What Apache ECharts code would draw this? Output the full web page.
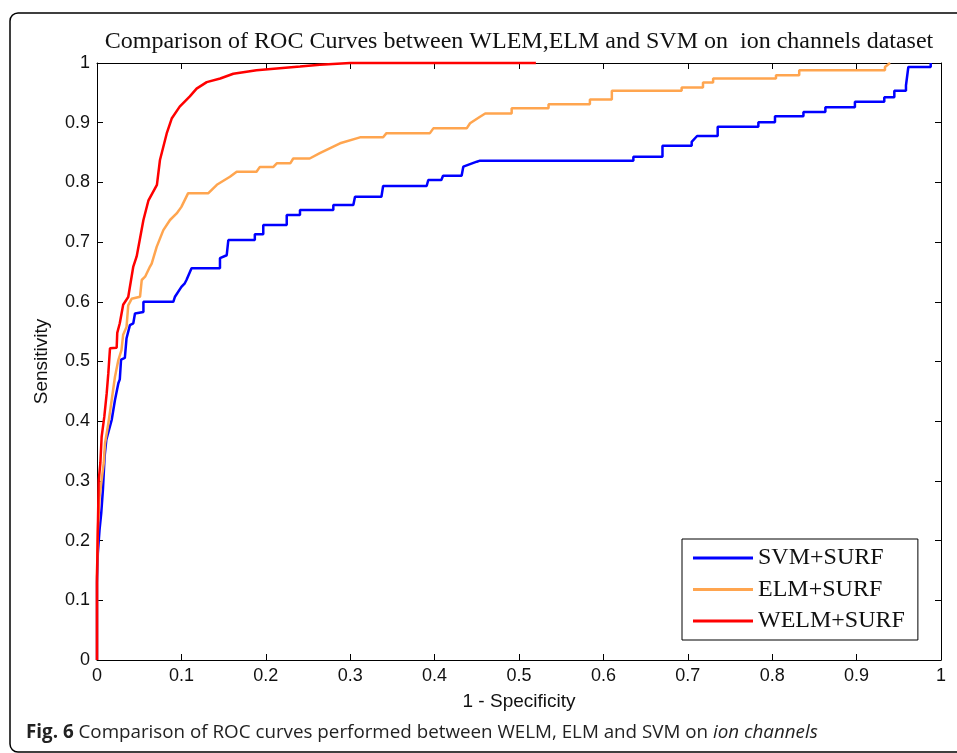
<!DOCTYPE html>
<html>
<head>
<meta charset="utf-8">
<script src="https://cdn.jsdelivr.net/npm/echarts@6/dist/echarts.min.js"></script>
<style>
html,body{margin:0;padding:0;background:#fff;}
#chart{width:957px;height:753px;}
</style>
</head>
<body>
<div id="chart"></div>
<script>
const titleText = 'Comparison of ROC Curves between WLEM,ELM and SVM on  ion channels dataset';
const xAxisName = '1 - Specificity';
const yAxisName = 'Sensitivity';
const seriesNames = ['SVM+SURF', 'ELM+SURF', 'WELM+SURF'];
const seriesColors = ['#0000FF', '#FFA54F', '#FF0000'];

const svmFpr = [0,0,0.001,0.003,0.005,0.007,0.009,0.011,0.0174,0.0213,0.0253,0.027,0.0285,0.033,0.035,0.039,0.043,0.045,0.055,0.055,0.0904,0.0924,0.1,0.104,0.106,0.112,0.1457,0.1457,0.1537,0.1556,0.187,0.187,0.197,0.197,0.2248,0.2248,0.2405,0.2405,0.28,0.28,0.3037,0.3057,0.337,0.339,0.3906,0.3925,0.408,0.410,0.432,0.434,0.45,0.4538,0.6355,0.6355,0.670,0.670,0.7046,0.7046,0.711,0.7354,0.7354,0.7836,0.7836,0.8033,0.8033,0.837,0.837,0.863,0.863,0.898,0.898,0.9328,0.9328,0.9447,0.9447,0.9585,0.9585,0.9613,0.9878,0.9878];
const svmTpr = [0,0.13,0.179,0.218,0.2457,0.285,0.3405,0.3685,0.402,0.4355,0.4635,0.47,0.503,0.506,0.539,0.561,0.564,0.5805,0.583,0.600,0.600,0.6085,0.625,0.631,0.6365,0.656,0.656,0.673,0.678,0.7035,0.7035,0.713,0.713,0.7286,0.7286,0.7454,0.7454,0.7538,0.7538,0.762,0.762,0.776,0.776,0.794,0.794,0.804,0.804,0.811,0.811,0.8263,0.8347,0.8364,0.8364,0.843,0.843,0.8615,0.8615,0.868,0.8777,0.8777,0.8934,0.8934,0.9007,0.9007,0.911,0.911,0.918,0.918,0.9258,0.9258,0.935,0.935,0.9425,0.9425,0.9535,0.9535,0.9623,0.9933,0.9933,1.0];

const elmFpr = [0,0,0.001,0.003,0.006,0.008,0.0095,0.0134,0.0174,0.0213,0.0253,0.029,0.031,0.035,0.037,0.041,0.051,0.053,0.057,0.0628,0.0648,0.0707,0.0786,0.0865,0.0944,0.1,0.108,0.132,0.142,0.1575,0.1655,0.189,0.193,0.209,0.213,0.229,0.2325,0.252,0.264,0.280,0.288,0.3116,0.339,0.343,0.3945,0.3985,0.438,0.442,0.4538,0.46,0.4913,0.4913,0.535,0.535,0.584,0.584,0.61,0.61,0.6927,0.6927,0.718,0.718,0.73,0.73,0.8045,0.8045,0.832,0.832,0.9336,0.9336,0.9396];
const elmTpr = [0,0.14,0.218,0.2735,0.307,0.33,0.363,0.396,0.4355,0.4745,0.5025,0.519,0.545,0.558,0.594,0.605,0.6085,0.6365,0.642,0.659,0.664,0.692,0.720,0.737,0.748,0.759,0.782,0.782,0.796,0.8095,0.818,0.818,0.826,0.826,0.832,0.832,0.840,0.840,0.849,0.860,0.8655,0.8755,0.8755,0.8825,0.8825,0.8905,0.8905,0.899,0.910,0.9155,0.9155,0.924,0.924,0.931,0.931,0.939,0.939,0.9535,0.9535,0.959,0.959,0.9675,0.9675,0.974,0.974,0.9796,0.9796,0.988,0.988,0.9933,1.0];

const welmFpr = [0,0,0.002,0.004,0.0055,0.0087,0.0115,0.0134,0.0154,0.0233,0.024,0.027,0.031,0.037,0.043,0.047,0.055,0.061,0.071,0.0746,0.0826,0.0885,0.098,0.110,0.118,0.130,0.146,0.1615,0.189,0.2405,0.264,0.30,0.52];
const welmTpr = [0,0.14,0.30,0.33,0.374,0.408,0.447,0.48,0.522,0.523,0.548,0.564,0.595,0.608,0.659,0.676,0.737,0.770,0.796,0.8375,0.882,0.907,0.927,0.944,0.957,0.968,0.974,0.982,0.988,0.994,0.997,1.0,1.0];

const xTicks = [0,0.1,0.2,0.3,0.4,0.5,0.6,0.7,0.8,0.9,1];
const yTicks = [0,0.1,0.2,0.3,0.4,0.5,0.6,0.7,0.8,0.9,1];

function zip(a, b) { return a.map((v, i) => [v, b[i]]); }
const seriesData = [zip(svmFpr, svmTpr), zip(elmFpr, elmTpr), zip(welmFpr, welmTpr)];

const chart = echarts.init(document.getElementById('chart'), null, {renderer: 'canvas'});
const tickFont = {color: '#111', fontFamily: 'Liberation Sans, Arial, sans-serif', fontSize: 18};
const fmt = v => String(Math.round(v * 10) / 10);
const baseAxis = {
  type: 'value', min: 0, max: 1, interval: 0.1,
  axisLine: {show: true, onZero: false, lineStyle: {color: '#000', width: 1}},
  axisTick: {show: true, inside: true, length: 6, lineStyle: {color: '#000', width: 1}},
  splitLine: {show: false}
};
const nameFont = {color: '#111', fontFamily: 'Liberation Sans, Arial, sans-serif', fontSize: 19};
chart.setOption({
  animation: false,
  backgroundColor: '#fff',
  grid: {left: 97, right: 16, top: 63, bottom: 93, containLabel: false},
  xAxis: [
    Object.assign({}, baseAxis, {
      position: 'bottom',
      axisLabel: Object.assign({margin: 7, formatter: fmt, customValues: xTicks}, tickFont),
      name: xAxisName, nameLocation: 'middle', nameGap: 32,
      nameTextStyle: nameFont
    }),
    Object.assign({}, baseAxis, {position: 'top', axisLabel: {show: false}})
  ],
  yAxis: [
    Object.assign({}, baseAxis, {
      position: 'left',
      axisLabel: Object.assign({margin: 7, formatter: fmt, customValues: yTicks}, tickFont),
      name: yAxisName, nameLocation: 'middle', nameGap: 46, nameRotate: 90,
      nameTextStyle: nameFont
    }),
    Object.assign({}, baseAxis, {position: 'right', axisLabel: {show: false}})
  ],
  legend: {
    orient: 'vertical', left: 682, top: 539,
    padding: [7, 13, 7, 11],
    backgroundColor: '#fff', borderColor: '#000', borderWidth: 1, borderRadius: 0,
    icon: 'rect', itemWidth: 60, itemHeight: 3, itemGap: 7.5,
    textStyle: {color: '#111', fontFamily: 'Liberation Serif, Times New Roman, serif', fontSize: 24, lineHeight: 24},
    data: seriesNames
  },
  series: seriesNames.map((name, i) => ({
    name: name, type: 'line', data: seriesData[i],
    xAxisIndex: 0, yAxisIndex: 0,
    showSymbol: false, symbol: 'none', smooth: false, clip: false,
    color: seriesColors[i],
    lineStyle: {color: seriesColors[i], width: 2.5},
    itemStyle: {color: seriesColors[i]},
    z: 2 + i
  })),
  graphic: [
    {type: 'rect', silent: true, z: -1,
     shape: {x: 10, y: 13, width: 960, height: 739, r: 8},
     style: {fill: 'none', stroke: '#000', lineWidth: 1.5}},
    {type: 'text', silent: true,
     style: {text: titleText, x: 519, y: 42, textAlign: 'center', textVerticalAlign: 'middle',
             fill: '#111', font: '24px "Liberation Serif", "Times New Roman", serif'}},
    {type: 'text', silent: true,
     style: {x: 26, y: 733, textVerticalAlign: 'middle',
             text: '{b|Fig. 6} Comparison of ROC curves performed between WELM, ELM and SVM on {i|ion channels}',
             fill: '#222', font: '18.8px "Open Sans", sans-serif',
             rich: {
               b: {fontWeight: 'bold', fontFamily: 'Open Sans', fontSize: 18.8, fill: '#222'},
               i: {fontStyle: 'italic', fontFamily: 'Open Sans', fontSize: 18.8, fill: '#222'}
             }}}
  ]
});
</script>
</body>
</html>
